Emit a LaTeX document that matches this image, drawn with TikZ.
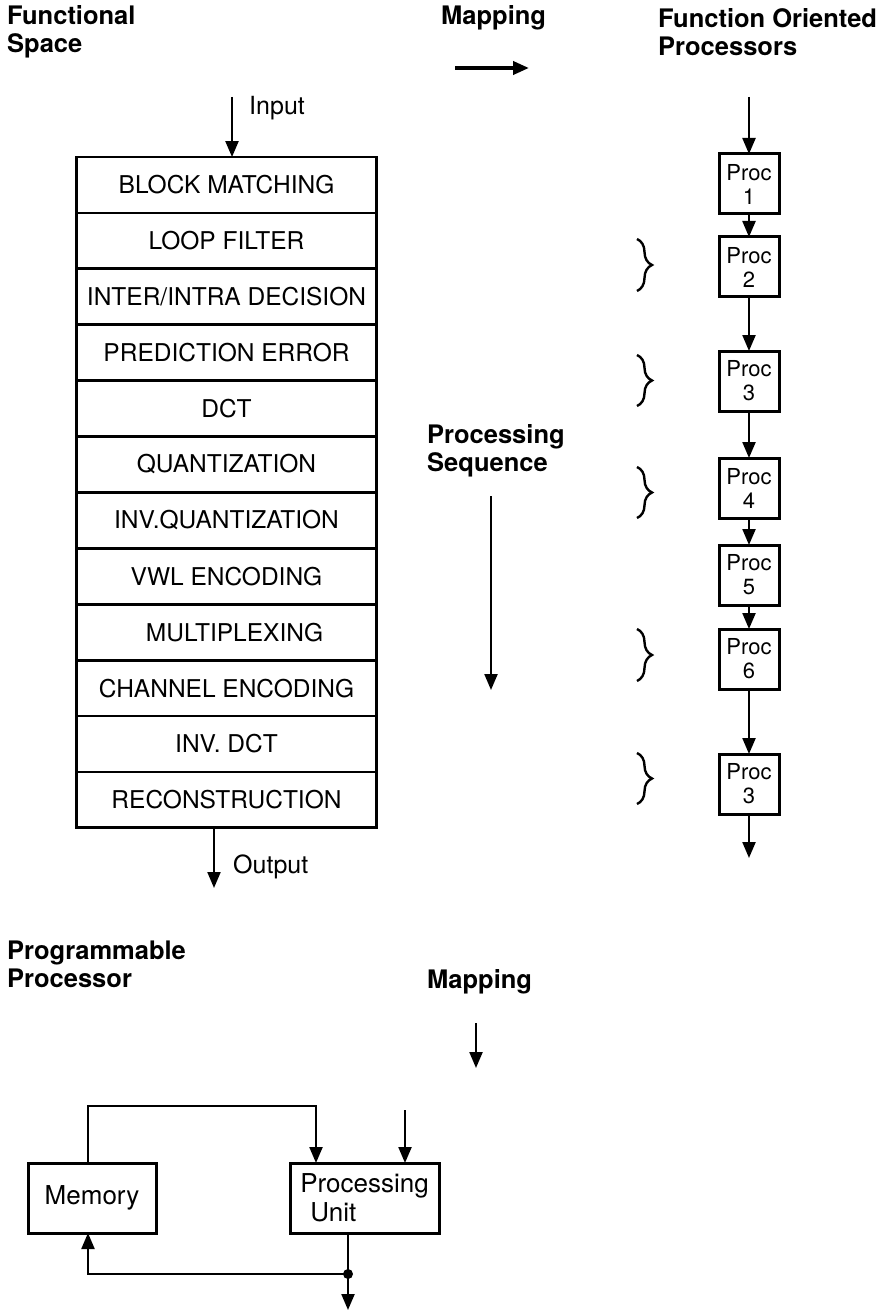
\documentclass[tikz,border=0pt]{standalone}
\usepackage{fontspec}
\setmainfont{TeX Gyre Heros}
\usetikzlibrary{arrows.meta,positioning,decorations.pathreplacing}
\tikzset{stage/.style={draw,line width=2.8pt,minimum width=300pt,minimum height=55.9pt,outer sep=0pt,inner sep=0pt,font=\fontsize{24.5}{28}\selectfont},proc/.style={draw,line width=3pt,minimum width=60pt,minimum height=60pt,outer sep=0pt,inner sep=0pt,align=center,font=\fontsize{22}{24}\selectfont},unit/.style={draw,line width=3pt,minimum height=70pt,outer sep=0pt,align=left,font=\fontsize{26}{29}\selectfont},head/.style={align=left,anchor=west,inner sep=0pt,font=\fontsize{25.5}{28}\selectfont\bfseries},lbl/.style={anchor=west,inner sep=0pt,font=\fontsize{25}{28}\selectfont},arrow/.style={-{Triangle[width=13pt,length=16pt]},line width=2.2pt},grp/.style={decorate,decoration={brace,amplitude=15pt},line width=2.4pt}}

\begin{document}
\begin{tikzpicture}[x=1pt,y=-1pt]
\useasboundingbox (0,0) rectangle (895,1313);
% headings
\node[head] (fs) at (7,32) {Functional\\Space};
\node[head] (map) at (441,18) {Mapping};
\node[head] (fop) at (658,32) {Function Oriented\\Processors};
\node[head] (seq) at (427,451) {Processing\\Sequence};
\node[head] (pp) at (7,964.5) {Programmable\\Processor};
\node[head] (map2) at (427,982) {Mapping};
% functional space
\node[stage] (r1) at (226.5,185) {BLOCK MATCHING};
\node[stage,below=0pt of r1] (r2) {LOOP FILTER};
\node[stage,below=0pt of r2] (r3) {INTER/INTRA DECISION};
\node[stage,below=0pt of r3] (r4) {PREDICTION ERROR};
\node[stage,below=0pt of r4] (r5) {DCT};
\node[stage,below=0pt of r5] (r6) {QUANTIZATION};
\node[stage,below=0pt of r6] (r7) {INV.QUANTIZATION};
\node[stage,below=0pt of r7] (r8) {VWL ENCODING};
\node[stage,below=0pt of r8] (r9) {\hspace*{16pt}MULTIPLEXING};
\node[stage,below=0pt of r9] (r10) {CHANNEL ENCODING};
\node[stage,below=0pt of r10] (r11) {INV. DCT};
\node[stage,below=0pt of r11] (r12) {RECONSTRUCTION};
\coordinate (in) at (232,97);
\coordinate (out) at (214,888);
\draw[arrow] (in) -- (in |- r1.north);
\draw[arrow] (out |- r12.south) -- (out);
\node[lbl] (inl) at (249,108) {Input};
\node[lbl] (outl) at (233,867) {Output};
% mapping arrows
\coordinate (ma) at (455,68);
\coordinate (mb) at (529,68);
\draw[-{Triangle[width=13pt,length=16pt]},line width=3.8pt] (ma) -- (mb);
\coordinate (sa) at (491,496);
\coordinate (sb) at (491,690);
\draw[arrow] (sa) -- (sb);
% function oriented processors
\node[proc] (p1) at (749,184) {Proc\\1};
\node[proc,below=23pt of p1] (p2) {Proc\\2};
\node[proc,below=54pt of p2] (p3) {Proc\\3};
\node[proc,below=47pt of p3] (p4) {Proc\\4};
\node[proc,below=27pt of p4] (p5) {Proc\\5};
\node[proc,below=24pt of p5] (p6) {Proc\\6};
\node[proc,below=65pt of p6] (p7) {Proc\\3};
\coordinate (pin) at (749,97);
\coordinate (pout) at (749,858);
\draw[arrow] (pin) -- (p1);
\draw[arrow] (p1) -- (p2);
\draw[arrow] (p2) -- (p3);
\draw[arrow] (p3) -- (p4);
\draw[arrow] (p4) -- (p5);
\draw[arrow] (p5) -- (p6);
\draw[arrow] (p6) -- (p7);
\draw[arrow] (p7) -- (pout);
\draw[grp] ([xshift=-112pt,yshift=-2pt]p2.north) -- ([xshift=-112pt,yshift=6pt]p2.south);
\draw[grp] ([xshift=-112pt,yshift=-4pt]p3.north) -- ([xshift=-112pt,yshift=5pt]p3.south);
\draw[grp] ([xshift=-112pt,yshift=-9pt]p4.north) -- ([xshift=-112pt,yshift=0pt]p4.south);
\draw[grp] ([xshift=-112pt,yshift=0pt]p6.north) -- ([xshift=-112pt,yshift=8pt]p6.south);
\draw[grp] ([xshift=-112pt,yshift=1pt]p7.north) -- ([xshift=-112pt,yshift=10pt]p7.south);
% programmable processor
\coordinate (ma2) at (476,1023);
\coordinate (mb2) at (476,1068);
\draw[arrow] (ma2) -- (mb2);
\node[unit,minimum width=128pt] (mem) at (92,1198) {Memory};
\node[unit,minimum width=149pt] (pu) at (364.5,1198) {Processing\\\hspace*{10pt}Unit};
\coordinate (ext) at (405,1110);
\coordinate (tap) at ([xshift=-16.5pt,yshift=-41pt]pu.south);
\coordinate (res) at ([xshift=-16.5pt,yshift=-77pt]pu.south);
\draw[arrow] ([xshift=-4pt]mem.north) -- ++(0,-57) -| ([xshift=-48.5pt]pu.north);
\draw[arrow] (ext) -- (ext |- pu.north);
\draw[arrow] (tap |- pu.south) -- (res);
\draw[arrow] (tap) -| ([xshift=-4pt]mem.south);
\fill (tap) circle (5pt);
\end{tikzpicture}
\end{document}
